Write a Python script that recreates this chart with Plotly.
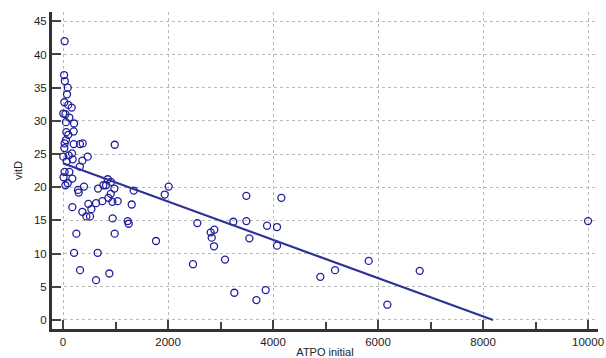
import plotly.graph_objects as go

atpo = [30, 20, 35, 90, 76, 25, 100, 165, 5, 45, 120, 55, 210, 63, 203, 100, 55, 30,
        203, 323, 375, 985, 25, 5, 108, 171, 470, 368, 184, 70, 320, 30, 120, 10, 177,
        90, 45, 400, 286, 298, 667, 768, 851, 914, 819, 978, 908, 864, 749, 629, 482,
        940, 1041, 1308, 1346, 177, 540, 368, 444, 514, 945, 1232, 1251, 254, 984,
        1771, 210, 660, 324, 882, 629, 2012, 1937, 2558, 2813, 2882, 2832, 2876, 2476,
        3086, 3244, 3492, 3492, 3549, 3263, 3683, 3860, 3886, 4076, 4159, 4076, 4901,
        5181, 5822, 6177, 6794, 10000]
vitd = [42.0, 36.9, 36.0, 35.0, 34.0, 32.8, 32.4, 32.0, 31.1, 31.0, 30.5, 29.8, 29.6,
        28.3, 28.4, 27.9, 27.1, 26.6, 26.5, 26.5, 26.6, 26.4, 25.9, 24.6, 24.8, 25.1,
        24.6, 24.0, 24.2, 23.9, 23.1, 22.3, 22.3, 21.5, 21.3, 20.6, 20.3, 20.1, 19.6,
        19.2, 19.8, 20.3, 21.2, 20.8, 20.3, 19.8, 19.0, 18.4, 17.9, 17.6, 17.5, 17.8,
        17.9, 17.4, 19.5, 17.0, 16.7, 16.3, 15.6, 15.6, 15.3, 14.9, 14.5, 13.0, 13.0,
        11.9, 10.1, 10.1, 7.5, 7.0, 6.0, 20.1, 18.9, 14.6, 13.2, 13.6, 12.4, 11.1, 8.4,
        9.1, 14.8, 18.7, 14.9, 12.3, 4.1, 3.0, 4.5, 14.2, 14.0, 18.4, 11.2, 6.5,
        7.5, 8.9, 2.3, 7.4, 14.9]

fit_x = [0, 8190]
fit_y = [23.6, 0]

x_ticks = [0, 2000, 4000, 6000, 8000, 10000]
y_ticks = [0, 5, 10, 15, 20, 25, 30, 35, 40, 45]

fig = go.Figure()
fig.add_trace(go.Scatter(x=atpo, y=vitd, mode="markers",
                         marker=dict(symbol="circle-open", size=7, color="#1f1f9c",
                                     line=dict(width=1.3, color="#1f1f9c")),
                         showlegend=False, cliponaxis=False))
fig.add_trace(go.Scatter(x=fit_x, y=fit_y, mode="lines",
                         line=dict(color="#2e3296", width=2.2), showlegend=False))

axis_common = dict(showline=True, linewidth=3, linecolor="#333333",
                   ticks="inside", ticklen=9, tickwidth=2, tickcolor="#444444",
                   showgrid=True, gridcolor="#b8b8b8", griddash="dot", gridwidth=1,
                   zeroline=False, mirror=False, automargin=False,
                   tickfont=dict(family="Liberation Sans, Arial", size=11.5, color="#222222"),
                   title_font=dict(family="Liberation Sans, Arial", size=11, color="#222222"))

fig.update_xaxes(range=[-210, 10190], tickmode="array", tickvals=x_ticks,
                 ticktext=[str(v) for v in x_ticks],
                 minor=dict(dtick=1000, tick0=0, ticks="inside", ticklen=7,
                            tickwidth=2, tickcolor="#444444", showgrid=False),
                 title=dict(text="ATPO initial", standoff=3), **axis_common)
fig.update_yaxes(range=[-1.36, 46.4], tickmode="array", tickvals=y_ticks,
                 ticktext=[str(v) for v in y_ticks],
                 title=dict(text="vitD", standoff=10), **axis_common)

fig.update_layout(width=606, height=358, plot_bgcolor="white", paper_bgcolor="white",
                  margin=dict(l=52, r=8, t=12, b=29))
fig.write_html("out.html", config={"displayModeBar": False},
               post_script="document.body.style.margin='0';document.body.style.overflow='hidden';")
